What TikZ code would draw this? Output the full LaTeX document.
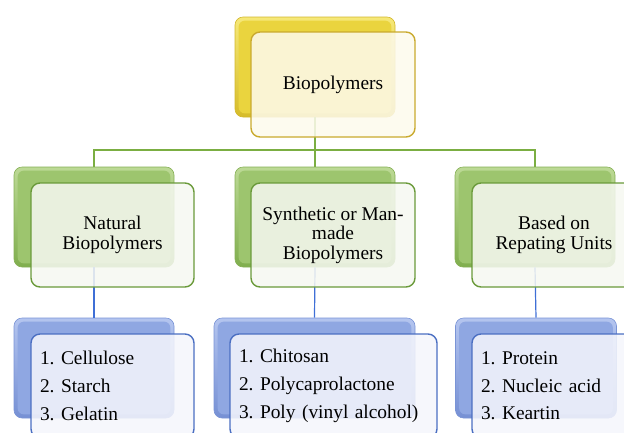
\documentclass[tikz,border=0pt]{standalone}
\usepackage{fontspec}
\setmainfont{Liberation Serif}
\frenchspacing
\definecolor{ylA}{HTML}{F6E878}
\definecolor{ylB}{HTML}{D6BC2A}
\definecolor{ylC}{HTML}{EAD43E}
\definecolor{ylD}{HTML}{D2B72C}
\definecolor{ylF}{HTML}{C9AA2E}
\definecolor{ylFill}{HTML}{FDFAEC}
\definecolor{grA}{HTML}{BCD995}
\definecolor{grB}{HTML}{80AE4E}
\definecolor{grC}{HTML}{9DC56E}
\definecolor{grD}{HTML}{86B056}
\definecolor{grF}{HTML}{6A9A3A}
\definecolor{grFill}{HTML}{F6F8F1}
\definecolor{grLine}{HTML}{7BAE42}
\definecolor{blA}{HTML}{B4C5EF}
\definecolor{blB}{HTML}{7690D4}
\definecolor{blC}{HTML}{8FA7E2}
\definecolor{blD}{HTML}{7A94D6}
\definecolor{blF}{HTML}{4B6FC2}
\definecolor{blFill}{HTML}{F5F6FC}
\definecolor{blLine}{HTML}{3F6FD6}
\tikzset{
  backbox/.style={rectangle, rounded corners=8pt, line width=0.6pt, inner sep=0pt, minimum height=100pt},
  ybk/.style={backbox, draw=ylD, top color=ylA, bottom color=ylB, minimum width=160pt},
  gbk/.style={backbox, draw=grD, top color=grA, bottom color=grB},
  bbk/.style={backbox, draw=blD, top color=blA, bottom color=blB},
  frontbox/.style={rectangle, rounded corners=9pt, line width=1.4pt, fill opacity=0.86, text opacity=1, inner sep=0pt, font=\fontsize{19.4}{19.6}\selectfont, align=center},
  yfr/.style={frontbox, draw=ylF, fill=ylFill, minimum width=164pt, minimum height=105pt},
  gfr/.style={frontbox, draw=grF, fill=grFill, minimum height=104pt},
  bfr/.style={frontbox, draw=blF, fill=blFill, minimum height=104pt, align=left, inner xsep=9pt, font=\fontsize{19.4}{27.7}\selectfont},
  gline/.style={draw=grLine, line width=1.4pt},
  bline/.style={draw=blLine, line width=1.2pt}
}
\newcommand{\bevelcore}[2]{\fill[#2, rounded corners=6pt] ([shift={(4,4)}]#1.north west) rectangle ([shift={(-4,-4)}]#1.south east);}
\begin{document}
\begin{tikzpicture}[x=1pt,y=-1pt]
\path[use as bounding box] (0,0) rectangle (624,432);
\clip (0,0) rectangle (624,432);
% connectors (behind everything)
\coordinate (bus) at (315,150);
% back boxes
\node[ybk] (tb) at (315,67) {};
\node[gbk, minimum width=160pt] (g1b) at (94,217) {};
\node[gbk, minimum width=160pt] (g2b) at (315,217) {};
\node[gbk, minimum width=160pt] (g3b) at (535,217) {};
\node[bbk, minimum width=160pt] (b1b) at (94,368) {};
\node[bbk, minimum width=201pt] (b2b) at (314.5,368) {};
\node[bbk, minimum width=161pt] (b3b) at (536,368) {};
\bevelcore{tb}{ylC}
\bevelcore{g1b}{grC}
\bevelcore{g2b}{grC}
\bevelcore{g3b}{grC}
\bevelcore{b1b}{blC}
\bevelcore{b2b}{blC}
\bevelcore{b3b}{blC}
\draw[gline] (tb.south) -- (bus);
\draw[gline] (g1b.north) |- (bus) -| (g3b.north);
\draw[gline] (bus) -- (g2b.north);
\draw[bline] (g1b.south) -- (b1b.north);
\draw[bline] (g2b.south) -- (b2b.north);
\draw[bline] (g3b.south) -- (b3b.north);
% front boxes
\node[yfr] (tf) at (333,84.5) {Biopolymers};
\node[gfr, minimum width=163pt] (g1f) at (112.5,235) {Natural\\Biopolymers};
\node[gfr, minimum width=164pt] (g2f) at (333,235) {Synthetic or Man-\\made\\Biopolymers};
\node[gfr, minimum width=164pt] (g3f) at (554,235) {Based on\\Repating Units};
\node[bfr, minimum width=163pt, text width=145pt] (b1f) at (112.5,386) {1. Cellulose\\2. Starch\\3. Gelatin};
\node[bfr, minimum width=207pt, text width=189pt] (b2f) at (333.5,386) {1. Chitosan\\2. Polycaprolactone\\3. Poly (vinyl alcohol)};
\node[bfr, minimum width=164pt, text width=146pt] (b3f) at (554,386) {1. Protein\\2. Nucleic acid\\3. Keartin};
\end{tikzpicture}
\end{document}
